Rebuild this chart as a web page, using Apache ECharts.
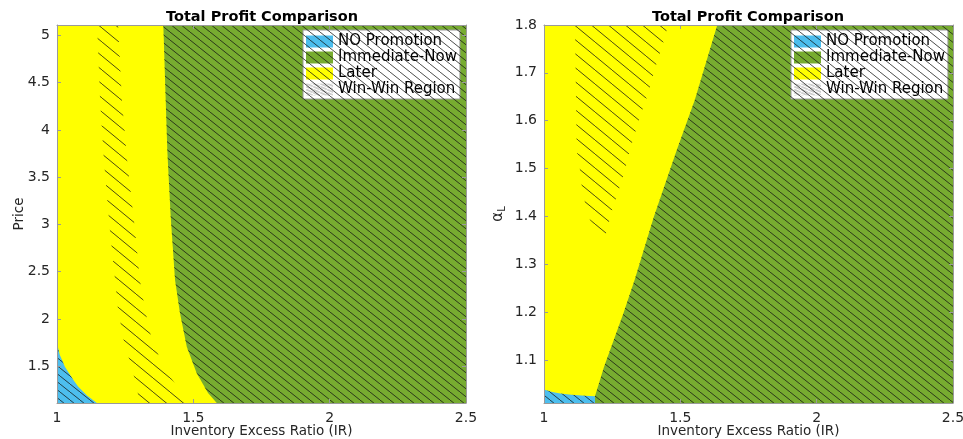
<!DOCTYPE html>
<html>
<head>
<meta charset="utf-8">
<script src="https://cdn.jsdelivr.net/npm/echarts@6/dist/echarts.min.js"></script>
<style>
  html, body { margin: 0; padding: 0; background: #fff; }
  #chart { width: 963px; height: 439px; }
</style>
</head>
<body>
<div id="chart"></div>
<script>
// ---- axis extents and tick values ----
const irRange = [1, 2.5];
const irTicks = [1, 1.5, 2, 2.5];
const priceRange = [1.11, 5.11];
const priceTicks = [1.5, 2, 2.5, 3, 3.5, 4, 4.5, 5];
const alphaRange = [1.01, 1.8];
const alphaTicks = [1.1, 1.2, 1.3, 1.4, 1.5, 1.6, 1.7, 1.8];

const panelTitle = 'Total Profit Comparison';
const xName = 'Inventory Excess Ratio (IR)';
const legendNames = ['NO Promotion', 'Immediate-Now', 'Later', 'Win-Win Region'];

// ---- left panel (IR, price): region boundaries ----
const priceNoPromoEdge = [[1, 1.742], [1.01, 1.62], [1.029, 1.494], [1.06, 1.353], [1.078, 1.283], [1.11, 1.19], [1.146, 1.11]];
const priceNowEdge = [[1.390, 5.11], [1.4045, 3.787], [1.417, 3.081], [1.433, 2.412], [1.451, 2.062], [1.476, 1.706], [1.512, 1.427], [1.554, 1.215], [1.586, 1.11]];
const priceWinLeftEdge = [[1.147, 5.11], [1.158, 4.316], [1.172, 3.681], [1.194, 2.941], [1.213, 2.412], [1.224, 2.094], [1.246, 1.756], [1.268, 1.544], [1.286, 1.353], [1.304, 1.11]];
const priceWinRightEdge = [[1.224, 5.11], [1.238, 4.316], [1.257, 3.681], [1.286, 2.941], [1.304, 2.412], [1.323, 2.094], [1.348, 1.777], [1.396, 1.459], [1.488, 1.11]];

// ---- right panel (IR, alpha_L): region boundaries ----
const alphaNoPromoEdge = [[1, 1.038], [1.03, 1.033], [1.06, 1.030], [1.10, 1.027], [1.15, 1.025], [1.187, 1.024], [1.187, 1.01]];
const alphaNowEdge = [[1.6355, 1.8], [1.553, 1.643], [1.487, 1.5385], [1.403, 1.399], [1.332, 1.2665], [1.291, 1.197], [1.220, 1.085], [1.187, 1.024], [1.187, 1.01]];
const alphaWinLeftEdge = [[1.1137, 1.8], [1.120, 1.5385], [1.132, 1.4967], [1.138, 1.4653], [1.150, 1.4303], [1.169, 1.392], [1.205, 1.367]];
const alphaWinRightEdge = [[1.227, 1.363], [1.248, 1.409], [1.272, 1.451], [1.297, 1.497], [1.315, 1.5385], [1.352, 1.608], [1.382, 1.657], [1.407, 1.709], [1.435, 1.758], [1.455, 1.8]];

// ---- colours ----
const BLUE = '#4DBEEE';
const GREEN = '#77AC30';
const YELLOW = '#FFFF00';
const AXIS_GRAY = '#9a9a9a';
const TEXT = '#262626';
const FONT = 'DejaVu Sans';

// diagonal hatch tile: lines run down-right with slope h/w, spaced w apart horizontally
function hatchTile(w, h, color, width, bg) {
  const c = document.createElement('canvas');
  c.width = w; c.height = h;
  const g = c.getContext('2d');
  if (bg) { g.fillStyle = bg; g.fillRect(0, 0, w, h); }
  g.strokeStyle = color;
  g.lineWidth = width;
  g.beginPath();
  for (let k = -1; k <= 1; k++) {
    g.moveTo(k * w, 0);
    g.lineTo(k * w + w, h);
  }
  g.stroke();
  return { image: c, repeat: 'repeat' };
}
const hatchDense = hatchTile(10, 8, 'rgba(20,20,20,0.85)', 0.9);
const hatchSparse = hatchTile(17, 14, 'rgba(20,20,20,0.85)', 0.9);
const hatchLegend = hatchTile(7, 3, '#8a8a8a', 0.8, '#ffffff');

// polygon builders from boundary curves
function underEdge(edge, xMin, yMin) {
  return edge.concat([[xMin, yMin]]);
}
function rightOfEdge(edge, xMax, yMin, yMax) {
  return edge.concat([[xMax, yMin], [xMax, yMax]]);
}
function band(leftEdge, rightEdge, rightReversed) {
  const r = rightReversed ? rightEdge.slice() : rightEdge.slice().reverse();
  return leftEdge.concat(r);
}
function fullRect(xr, yr) {
  return [[xr[0], yr[0]], [xr[1], yr[0]], [xr[1], yr[1]], [xr[0], yr[1]]];
}

// custom series that draws a set of filled polygons in data coordinates
function regionSeries(name, gridIdx, polys, legendColor, z) {
  const verts = [];
  polys.forEach(p => p.pts.forEach(v => verts.push(v)));
  return {
    type: 'custom',
    name: name,
    xAxisIndex: gridIdx * 2,
    yAxisIndex: gridIdx * 2,
    z: z,
    silent: true,
    itemStyle: { color: legendColor },
    data: verts,
    renderItem: function (params, api) {
      if (params.dataIndex !== 0) return null;
      return {
        type: 'group',
        children: polys.map(p => ({
          type: 'polygon',
          shape: { points: p.pts.map(v => api.coord(v)) },
          style: { fill: p.fill, stroke: null }
        }))
      };
    }
  };
}

const priceBlue = underEdge(priceNoPromoEdge, irRange[0], priceRange[0]);
const priceGreen = rightOfEdge(priceNowEdge, irRange[1], priceRange[0], priceRange[1]);
const priceStrip = band(priceWinLeftEdge, priceWinRightEdge, false);
const alphaBlue = underEdge(alphaNoPromoEdge, irRange[0], alphaRange[0]);
const alphaGreen = rightOfEdge(alphaNowEdge, irRange[1], alphaRange[0], alphaRange[1]);
const alphaStrip = band(alphaWinLeftEdge, alphaWinRightEdge, true);

const series = [
  regionSeries('Later', 0, [{ pts: fullRect(irRange, priceRange), fill: YELLOW }], YELLOW, 1),
  regionSeries('Immediate-Now', 0, [{ pts: priceGreen, fill: GREEN }], GREEN, 2),
  regionSeries('NO Promotion', 0, [{ pts: priceBlue, fill: BLUE }], BLUE, 3),
  regionSeries('Win-Win Region', 0, [
    { pts: priceBlue, fill: hatchDense },
    { pts: priceGreen, fill: hatchDense },
    { pts: priceStrip, fill: hatchSparse }
  ], hatchLegend, 4),
  regionSeries('Later', 1, [{ pts: fullRect(irRange, alphaRange), fill: YELLOW }], YELLOW, 1),
  regionSeries('Immediate-Now', 1, [{ pts: alphaGreen, fill: GREEN }], GREEN, 2),
  regionSeries('NO Promotion', 1, [{ pts: alphaBlue, fill: BLUE }], BLUE, 3),
  regionSeries('Win-Win Region', 1, [
    { pts: alphaBlue, fill: hatchDense },
    { pts: alphaGreen, fill: hatchDense },
    { pts: alphaStrip, fill: hatchSparse }
  ], hatchLegend, 4)
];

// axes: a labelled bottom/left pair plus an unlabelled top/right pair that closes the box
function xAxes(gridIdx) {
  const base = {
    gridIndex: gridIdx, type: 'value', min: irRange[0], max: irRange[1], z: 10,
    splitLine: { show: false },
    axisLine: { show: true, lineStyle: { color: AXIS_GRAY, width: 1 } },
    axisTick: { show: true, inside: true, length: 4, customValues: irTicks, lineStyle: { color: AXIS_GRAY } }
  };
  return [
    Object.assign({}, base, {
      position: 'bottom',
      axisLabel: { customValues: irTicks, color: TEXT, fontFamily: FONT, fontSize: 14, margin: 8 },
      name: xName, nameLocation: 'middle', nameGap: 21, nameMoveOverlap: false,
      nameTextStyle: { color: TEXT, fontFamily: FONT, fontSize: 13.5 }
    }),
    Object.assign({}, base, { position: 'top', axisLabel: { show: false } })
  ];
}
function yAxes(gridIdx, range, ticks, name, nameGap, nameStyle) {
  const base = {
    gridIndex: gridIdx, type: 'value', min: range[0], max: range[1], z: 10,
    splitLine: { show: false },
    axisLine: { show: true, lineStyle: { color: AXIS_GRAY, width: 1 } },
    axisTick: { show: true, inside: true, length: 4, customValues: ticks, lineStyle: { color: AXIS_GRAY } }
  };
  return [
    Object.assign({}, base, {
      position: 'left',
      axisLabel: { customValues: ticks, color: TEXT, fontFamily: FONT, fontSize: 14, margin: 7 },
      name: name, nameLocation: 'middle', nameGap: nameGap, nameRotate: 90, nameMoveOverlap: false,
      nameTextStyle: nameStyle
    }),
    Object.assign({}, base, { position: 'right', axisLabel: { show: false } })
  ];
}

function legendAt(left) {
  return {
    data: legendNames.map(n => ({ name: n, icon: 'rect' })),
    orient: 'vertical', left: left, top: 30,
    itemWidth: 27, itemHeight: 12, itemGap: 1,
    backgroundColor: '#ffffff', borderColor: '#9a9a9a', borderWidth: 1, borderRadius: 0,
    padding: [4, 3, 2, 3],
    selectedMode: false,
    textStyle: { color: '#000', fontFamily: FONT, fontSize: 15, lineHeight: 14 }
  };
}

const chart = echarts.init(document.getElementById('chart'), null, { renderer: 'canvas' });
chart.setOption({
  animation: false,
  backgroundColor: '#ffffff',
  title: [
    { text: panelTitle, left: 262, top: 10, padding: 0, textAlign: 'center',
      textStyle: { fontFamily: FONT, fontWeight: 'bold', fontSize: 14.5, color: '#000' } },
    { text: panelTitle, left: 748, top: 10, padding: 0, textAlign: 'center',
      textStyle: { fontFamily: FONT, fontWeight: 'bold', fontSize: 14.5, color: '#000' } }
  ],
  legend: [legendAt(303), legendAt(791)],
  grid: [
    { left: 57, top: 25, width: 409, height: 378, containLabel: false, outerBoundsMode: 'none' },
    { left: 544, top: 25, width: 409, height: 378, containLabel: false, outerBoundsMode: 'none' }
  ],
  xAxis: xAxes(0).concat(xAxes(1)),
  yAxis: yAxes(0, priceRange, priceTicks, 'Price', 31,
      { color: TEXT, fontFamily: FONT, fontSize: 13.5 })
    .concat(yAxes(1, alphaRange, alphaTicks, '{a|α}{s|L}', 37, {
      color: TEXT, fontFamily: FONT,
      rich: {
        a: { fontFamily: FONT, fontSize: 15, color: TEXT, lineHeight: 18 },
        s: { fontFamily: FONT, fontSize: 10, color: TEXT, lineHeight: 10, verticalAlign: 'bottom' }
      }
    })),
  series: series
});
</script>
</body>
</html>
